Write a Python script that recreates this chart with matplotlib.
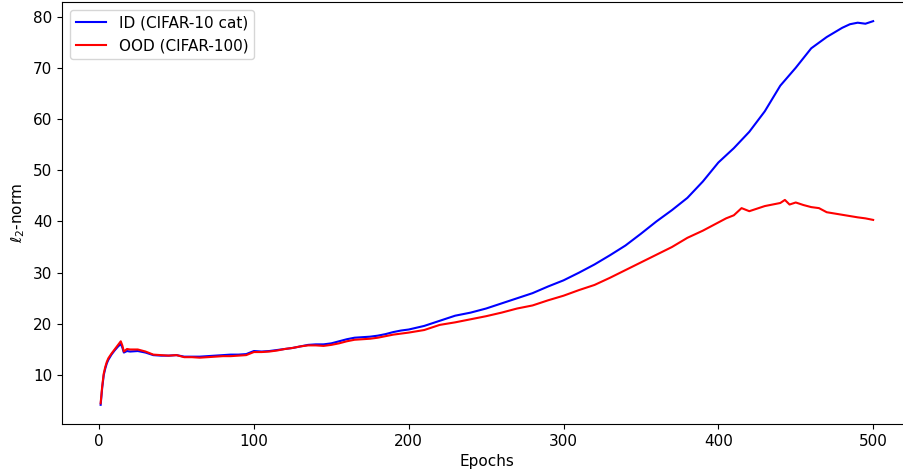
import matplotlib
matplotlib.use("Agg")
import matplotlib.pyplot as plt

# epochs and l2-norm values
id_epochs = [1, 2, 3, 4, 5, 6, 8, 10, 12, 14, 15, 16, 18, 20, 25, 30, 35, 40, 45, 50,
             55, 60, 65, 70, 75, 80, 85, 90, 95, 100, 105, 110, 115, 120, 125, 130, 135,
             140, 145, 150, 155, 160, 165, 170, 175, 180, 185, 190, 195, 200, 210, 220,
             230, 240, 250, 260, 270, 280, 290, 300, 310, 320, 330, 340, 350, 360, 370,
             380, 390, 400, 410, 420, 430, 440, 450, 460, 470, 480, 485, 490, 495, 500]
id_norm = [4.2, 7.5, 10.0, 11.3, 12.3, 13.0, 14.0, 14.8, 15.5, 16.1, 15.4, 14.4, 14.7, 14.6,
           14.7, 14.4, 13.9, 13.8, 13.8, 13.9, 13.6, 13.6, 13.6, 13.7, 13.8, 13.9, 14.0,
           14.0, 14.1, 14.7, 14.6, 14.7, 14.9, 15.1, 15.3, 15.6, 15.9, 16.0, 16.0, 16.2,
           16.6, 17.0, 17.3, 17.4, 17.5, 17.7, 18.0, 18.4, 18.7, 18.9, 19.6, 20.6, 21.6,
           22.2, 23.0, 24.0, 25.0, 26.0, 27.3, 28.5, 30.0, 31.6, 33.4, 35.3, 37.6, 40.0,
           42.2, 44.6, 47.8, 51.5, 54.3, 57.5, 61.5, 66.5, 70.0, 73.8, 76.0, 77.8, 78.5,
           78.8, 78.6, 79.1]

ood_epochs = [1, 2, 3, 4, 5, 6, 8, 10, 12, 14, 15, 16, 18, 20, 25, 30, 35, 40, 45, 50,
              55, 60, 65, 70, 75, 80, 85, 90, 95, 100, 105, 110, 115, 120, 125, 130, 135,
              140, 145, 150, 155, 160, 165, 170, 175, 180, 185, 190, 195, 200, 210, 220,
              230, 240, 250, 260, 270, 280, 290, 300, 310, 320, 330, 340, 350, 360, 370,
              380, 390, 400, 405, 410, 415, 420, 430, 440, 443, 446, 450, 455, 460, 465, 470,
              480, 490, 495, 500]
ood_norm = [4.5, 7.8, 10.3, 11.6, 12.6, 13.3, 14.2, 15.0, 15.8, 16.6, 15.8, 14.6, 15.1, 15.0,
            15.0, 14.6, 14.0, 13.9, 13.8, 13.9, 13.5, 13.5, 13.4, 13.5, 13.6, 13.7, 13.7,
            13.8, 13.9, 14.5, 14.5, 14.6, 14.8, 15.1, 15.3, 15.6, 15.8, 15.8, 15.7, 15.9,
            16.2, 16.6, 16.9, 17.0, 17.1, 17.3, 17.6, 17.9, 18.1, 18.3, 18.8, 19.8, 20.3,
            20.9, 21.5, 22.2, 23.0, 23.6, 24.6, 25.5, 26.6, 27.6, 29.0, 30.5, 32.0, 33.5,
            35.0, 36.8, 38.2, 39.8, 40.6, 41.2, 42.6, 42.0, 43.0, 43.6, 44.2, 43.3, 43.7, 43.2,
            42.8, 42.6, 41.8, 41.3, 40.8, 40.6, 40.3]

plt.rcParams["font.size"] = 11

fig = plt.figure(figsize=(9.04, 4.71), dpi=100)
ax = fig.add_axes([0.0686, 0.0998, 0.940, 0.896])

ax.plot(id_epochs, id_norm, color="blue", label="ID (CIFAR-10 cat)")
ax.plot(ood_epochs, ood_norm, color="red", label="OOD (CIFAR-100)")

ax.set_xlabel("Epochs")
ax.set_ylabel(r"$\ell_2$-norm")
ax.legend(loc="upper left")

fig.savefig("out.png", dpi=100)
